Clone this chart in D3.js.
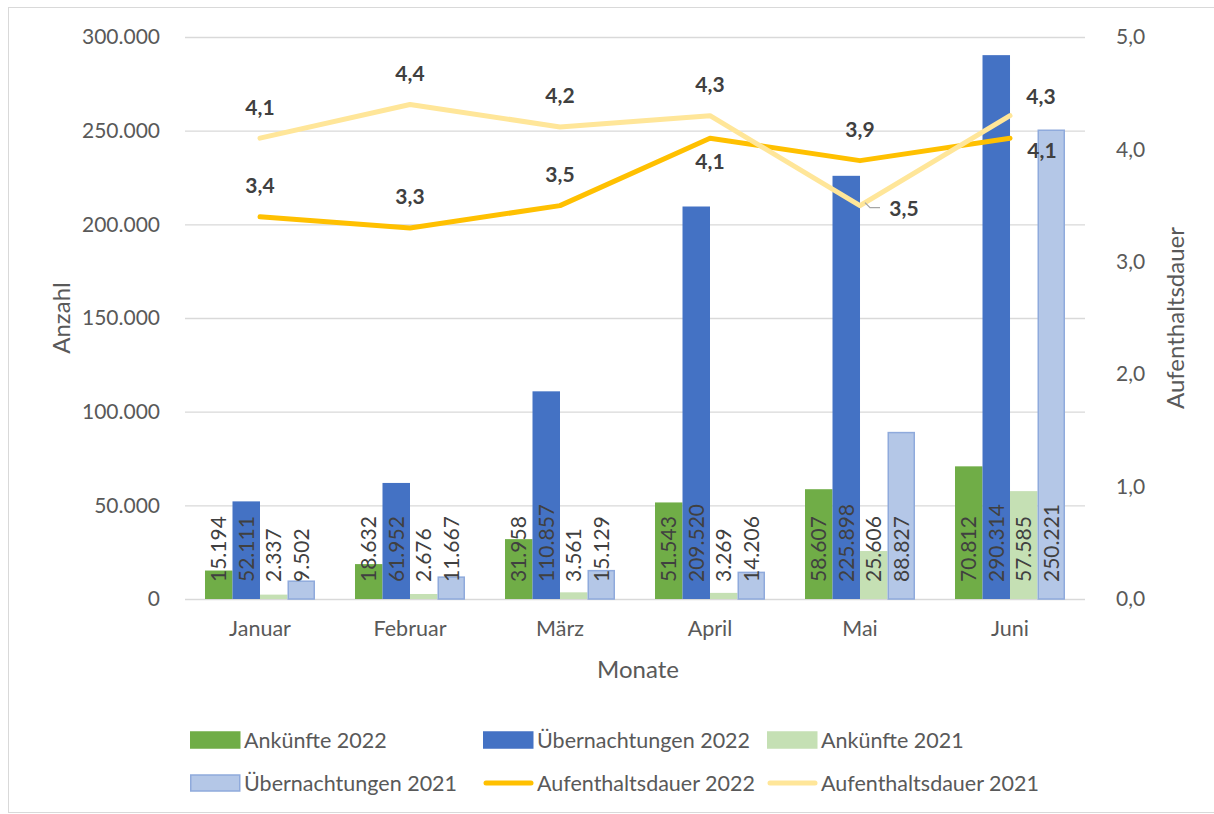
<!DOCTYPE html>
<html lang="de">
<head>
    <meta charset="UTF-8">
    <title>Ankünfte und Übernachtungen</title>
    <style>
        body {
            margin: 0;
            background-color: #fff;
            font-family: Lato, "Noto Sans", sans-serif;
            overflow: hidden;
        }
        svg { display: block; }
        svg text { fill: #595959; }
    </style>
    <script src="https://d3js.org/d3.v7.min.js"></script>
</head>
<body>
    <svg id="chart" width="1214" height="814"></svg>
    <script>
        // Daten
        const months = ["Januar", "Februar", "März", "April", "Mai", "Juni"];
        const arrivals2022 = [15194, 18632, 31958, 51543, 58607, 70812];
        const nights2022 = [52111, 61952, 110857, 209520, 225898, 290314];
        const arrivals2021 = [2337, 2676, 3561, 3269, 25606, 57585];
        const nights2021 = [9502, 11667, 15129, 14206, 88827, 250221];
        const stay2022 = [3.4, 3.3, 3.5, 4.1, 3.9, 4.1];
        const stay2021 = [4.1, 4.4, 4.2, 4.3, 3.5, 4.3];
        const leftTicks = [0, 50000, 100000, 150000, 200000, 250000, 300000];
        const rightTicks = [0, 1, 2, 3, 4, 5];

        // where each line label sits
        const stay2022Pos = ["above", "above", "above", "below", "above", "rightBelow"];
        const stay2021Pos = ["above", "above", "above", "above", "leader", "rightAbove"];

        const barSeries = [
            { name: "Ankünfte 2022", values: arrivals2022, fill: "#70AD47", stroke: "none" },
            { name: "Übernachtungen 2022", values: nights2022, fill: "#4472C4", stroke: "none" },
            { name: "Ankünfte 2021", values: arrivals2021, fill: "#C5E0B4", stroke: "none" },
            { name: "Übernachtungen 2021", values: nights2021, fill: "#B4C7E7", stroke: "#8FAADC" }
        ];
        const lineSeries = [
            { name: "Aufenthaltsdauer 2022", values: stay2022, color: "#FFC000", pos: stay2022Pos },
            { name: "Aufenthaltsdauer 2021", values: stay2021, color: "#FFE699", pos: stay2021Pos }
        ];

        const svg = d3.select("#chart");
        const plotLeft = 185, plotRight = 1085, plotTop = 37, plotBottom = 599;

        // outer frame
        svg.append("rect")
            .attr("x", 8.5).attr("y", 7.5)
            .attr("width", 1220).attr("height", 805)
            .attr("fill", "none").attr("stroke", "#d9d9d9");

        const x = d3.scaleBand().domain(months).range([plotLeft, plotRight]).paddingInner(0.2667).paddingOuter(0.1333);
        const xInner = d3.scaleBand().domain(d3.range(barSeries.length)).range([0, x.bandwidth()]);
        const y = d3.scaleLinear().domain([0, 300000]).range([plotBottom, plotTop]);
        const y2 = d3.scaleLinear().domain([0, 5]).range([plotBottom, plotTop]);
        const xc = d => x(d) + x.bandwidth() / 2;

        // grid
        svg.append("g").selectAll("line").data(leftTicks).join("line")
            .attr("x1", plotLeft).attr("x2", plotRight)
            .attr("y1", d => y(d) + 0.5).attr("y2", d => y(d) + 0.5)
            .attr("stroke", "#d9d9d9").attr("stroke-width", 1.3);

        const de = d3.formatLocale({ decimal: ",", thousands: ".", grouping: [3], currency: ["", "€"] });
        const fmtLeft = de.format(",d");
        const fmtRight = de.format(".1f");

        // left axis
        const yAxis = svg.append("g")
            .attr("transform", `translate(${plotLeft - 25},0)`)
            .call(d3.axisLeft(y).tickValues(leftTicks).tickFormat(fmtLeft).tickSize(0).tickPadding(0));
        yAxis.select(".domain").remove();
        yAxis.selectAll("text").attr("font-size", 21).attr("font-family", "Lato").style("fill", "#595959");

        // right axis
        const y2Axis = svg.append("g")
            .attr("transform", `translate(${plotRight + 31},0)`)
            .call(d3.axisRight(y2).tickValues(rightTicks).tickFormat(fmtRight).tickSize(0).tickPadding(0));
        y2Axis.select(".domain").remove();
        y2Axis.selectAll("text").attr("font-size", 21).attr("font-family", "Lato").style("fill", "#595959");

        // x axis labels
        const xAxis = svg.append("g")
            .attr("transform", `translate(0,${plotBottom + 22})`)
            .call(d3.axisBottom(x).tickSize(0).tickPadding(0));
        xAxis.select(".domain").remove();
        xAxis.selectAll("text").attr("font-size", 21.5).attr("font-family", "Lato").style("fill", "#595959");

        // axis titles
        svg.append("text").attr("x", 638).attr("y", 678).attr("text-anchor", "middle")
            .attr("font-size", 24).text("Monate");
        svg.append("text").attr("transform", "translate(70,318) rotate(-90)").attr("text-anchor", "middle")
            .attr("font-size", 24).text("Anzahl");
        svg.append("text").attr("transform", "translate(1184,318) rotate(-90)").attr("text-anchor", "middle")
            .attr("font-size", 24).text("Aufenthaltsdauer");

        // bars
        barSeries.forEach((s, i) => {
            const g = svg.append("g");
            g.selectAll("rect").data(s.values).join("rect")
                .attr("x", (d, j) => x(months[j]) + xInner(i) + (s.stroke === "none" ? 0 : 0.75))
                .attr("y", d => y(d))
                .attr("width", xInner.bandwidth() - (s.stroke === "none" ? 0 : 1.5))
                .attr("height", d => plotBottom - y(d))
                .attr("fill", s.fill)
                .attr("stroke", s.stroke)
                .attr("stroke-width", 1.5);
            g.selectAll("text").data(s.values).join("text")
                .attr("transform", (d, j) => `translate(${x(months[j]) + xInner(i) + xInner.bandwidth() / 2},${plotBottom - 17}) rotate(-90)`)
                .attr("dy", "0.36em")
                .attr("font-size", 21)
                .style("fill", "#404040")
                .text(d => fmtLeft(d));
        });

        // lines
        lineSeries.forEach(s => {
            const line = d3.line().x((d, j) => xc(months[j])).y(d => y2(d));
            svg.append("path").datum(s.values)
                .attr("d", line)
                .attr("fill", "none")
                .attr("stroke", s.color)
                .attr("stroke-width", 5)
                .attr("stroke-linejoin", "round")
                .attr("stroke-linecap", "round");
        });

        // line labels
        const offsets = {
            above: [0, -31],
            below: [0, 23],
            rightBelow: [32, 12],
            rightAbove: [31, -19],
            leader: [44, 3]
        };
        lineSeries.forEach(s => {
            s.values.forEach((v, j) => {
                const px = xc(months[j]), py = y2(v);
                const o = offsets[s.pos[j]];
                if (s.pos[j] === "leader") {
                    svg.append("path")
                        .attr("d", `M${px + 5},${py - 3} L${px + 10},${py + 2} L${px + 20},${py + 2}`)
                        .attr("fill", "none").attr("stroke", "#a6a6a6").attr("stroke-width", 1.3);
                }
                svg.append("text")
                    .attr("x", px + o[0]).attr("y", py + o[1])
                    .attr("dy", "0.35em")
                    .attr("text-anchor", "middle")
                    .attr("font-size", 21)
                    .attr("font-weight", "bold")
                    .style("fill", "#404040")
                    .text(fmtRight(v));
            });
        });

        // legend
        const legendItems = [
            { s: barSeries[0], type: "bar", x: 190, y: 740 },
            { s: barSeries[1], type: "bar", x: 483, y: 740 },
            { s: barSeries[2], type: "bar", x: 767, y: 740 },
            { s: barSeries[3], type: "bar", x: 190, y: 783 },
            { s: lineSeries[0], type: "line", x: 483, y: 783 },
            { s: lineSeries[1], type: "line", x: 767, y: 783 }
        ];
        const lg = svg.append("g");
        legendItems.forEach(it => {
            if (it.type === "bar") {
                lg.append("rect")
                    .attr("x", it.x + 0.75).attr("y", it.y - 8)
                    .attr("width", 49).attr("height", 16)
                    .attr("fill", it.s.fill)
                    .attr("stroke", it.s.stroke === "none" ? it.s.fill : it.s.stroke)
                    .attr("stroke-width", 1.5);
            } else {
                lg.append("line")
                    .attr("x1", it.x + 3).attr("x2", it.x + 48)
                    .attr("y1", it.y).attr("y2", it.y)
                    .attr("stroke", it.s.color).attr("stroke-width", 5)
                    .attr("stroke-linecap", "round");
            }
            lg.append("text")
                .attr("x", it.x + 54).attr("y", it.y)
                .attr("dy", "0.35em")
                .attr("font-size", 21.5)
                .text(it.s.name);
        });
    </script>
</body>
</html>
